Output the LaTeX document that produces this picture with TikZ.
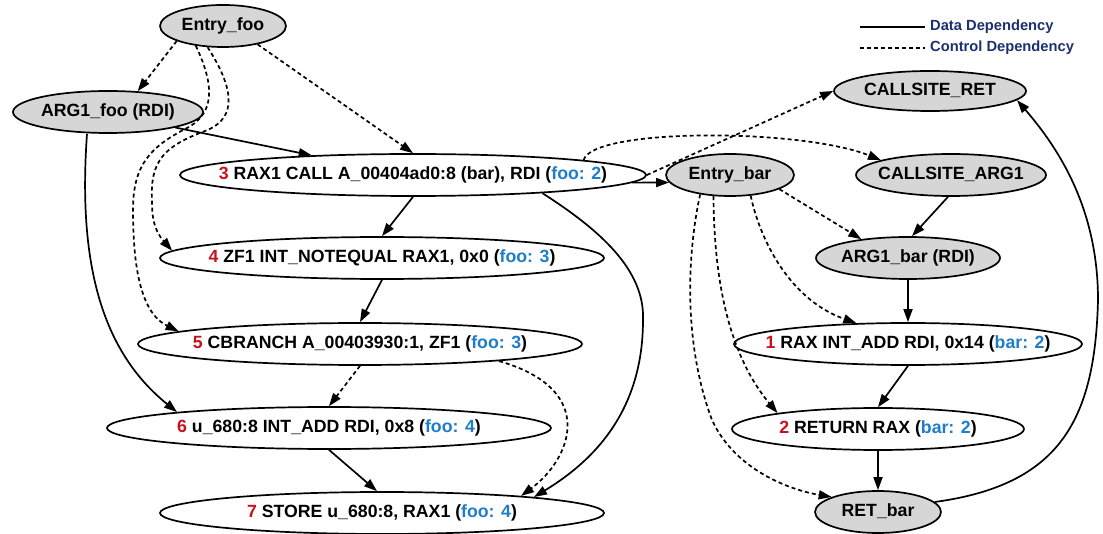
\documentclass[tikz,border=0pt]{standalone}
\usepackage{fontspec}
\setmainfont{Liberation Sans}
\usetikzlibrary{shapes.geometric,arrows.meta}
\definecolor{numred}{RGB}{200,16,30}
\definecolor{fnblue}{RGB}{30,125,200}
\definecolor{legnavy}{RGB}{28,48,110}
\definecolor{nodegrey}{RGB}{214,214,214}
% operation label: index (red), instruction, function and depth (blue)
\newcommand\oplabel[3]{\makebox[0pt]{\textcolor{numred}{#1} #2 (\textcolor{fnblue}{#3})}}
\newcommand\plainlabel[1]{\makebox[0pt]{#1}}

\begin{document}
\begin{tikzpicture}[x=1pt,y=-1pt,
  every node/.style={font=\fontsize{17.7}{20}\selectfont\bfseries},
  vtx/.style={ellipse, draw, line width=1.7pt, inner sep=0pt, minimum height=42pt,
              text height=13pt, text depth=4pt},
  aux/.style={vtx, fill=nodegrey},
  data/.style={line width=1.7pt, -{Triangle[length=13pt,width=9pt]}},
  ctrl/.style={data, dash pattern=on 4pt off 3pt},
  legtext/.style={anchor=west, inner sep=0pt, text=legnavy,
                  font=\fontsize{14.7}{17}\selectfont\bfseries}]
\useasboundingbox (0,0) rectangle (1103,534);

% ---- function foo ----
\node[aux, minimum width=126pt] (ef) at (223,26) {\plainlabel{Entry\_foo}};
\node[aux, minimum width=190pt] (af) at (108,112) {\plainlabel{ARG1\_foo (RDI)}};
\node[vtx, minimum width=466pt] (n3) at (413,175) {\oplabel{3}{RAX1 CALL A\_00404ad0:8 (bar), RDI}{foo: 2}};
\node[vtx, minimum width=444pt] (n4) at (382,258) {\oplabel{4}{ZF1 INT\_NOTEQUAL RAX1, 0x0}{foo: 3}};
\node[vtx, minimum width=444pt] (n5) at (360,344) {\oplabel{5}{CBRANCH A\_00403930:1, ZF1}{foo: 3}};
\node[vtx, minimum width=444pt] (n6) at (329,428) {\oplabel{6}{u\_680:8 INT\_ADD RDI, 0x8}{foo: 4}};
\node[vtx, minimum width=444pt] (n7) at (382,513) {\oplabel{7}{STORE u\_680:8, RAX1}{foo: 4}};

% ---- function bar ----
\node[aux, minimum width=128pt] (eb) at (730,175) {\plainlabel{Entry\_bar}};
\node[aux, minimum width=192pt, minimum height=40pt] (cr) at (930,91) {\plainlabel{CALLSITE\_RET}};
\node[aux, minimum width=190pt] (ca) at (951,175) {\plainlabel{CALLSITE\_ARG1}};
\node[aux, minimum width=184pt] (ab) at (908,258) {\plainlabel{ARG1\_bar (RDI)}};
\node[vtx, minimum width=348pt] (n1) at (908,344) {\oplabel{1}{RAX INT\_ADD RDI, 0x14}{bar: 2}};
\node[vtx, minimum width=292pt] (n2) at (878,429) {\oplabel{2}{RETURN RAX}{bar: 2}};
\node[aux, minimum width=126pt] (rb) at (878,512) {\plainlabel{RET\_bar}};

% ---- dependencies inside foo ----
\draw[ctrl] (ef.198) -- (af.35);
\draw[ctrl] (ef.332) -- (n3.north);
\draw[ctrl] (ef.234) .. controls (232,85) and (240,118) .. (205,131)
            .. controls (165,146) and (150,160) .. (152,200)
            .. controls (152,215) and (153,229) .. (n4.178);
\draw[ctrl] (ef.216) .. controls (212,80) and (218,112) .. (187,128)
            .. controls (150,147) and (133,165) .. (133,210)
            .. controls (133,280) and (145,315) .. (n5.176);
\draw[data] (af.347) -- (n3.169);
\draw[data] ([xshift=-21pt]af.south) .. controls (78,260) and (100,350) .. (n6.174);
\draw[data] (n3.south) -- (n4.north);
\draw[data] (n4.south) -- (n5.north);
\draw[ctrl] (n5.south) -- (n6.north);
\draw[data] (n6.south) -- ([xshift=-5pt]n7.north);
\draw[ctrl] (n5.353) .. controls (600,390) and (570,460) .. (n7.7);
\draw[data] (n3.352) .. controls (600,230) and (645,270) .. (643,320)
            .. controls (643,410) and (595,460) .. (n7.6);

% ---- call into bar ----
\draw[data] (n3.358) -- (eb.187);
\draw[ctrl] (n3.east) -- (cr.west);
\draw[ctrl] (n3.5) .. controls (592,128) and (800,128) .. (ca.168);

% ---- dependencies inside bar ----
\draw[ctrl] (eb.344) -- (ab.158);
\draw[data] ([xshift=-3pt]ca.south) -- ([xshift=4pt]ab.north);
\draw[data] (ab.south) -- (n1.north);
\draw[ctrl] (eb.315) .. controls (760,240) and (790,300) .. (n1.158);
\draw[ctrl] (eb.232) .. controls (714,270) and (725,350) .. (n2.171);
\draw[ctrl] (eb.213) .. controls (688,250) and (682,340) .. (712,420)
            .. controls (735,470) and (790,490) .. (rb.162);
\draw[data] (n1.south) -- (n2.north);
\draw[data] (n2.south) -- (rb.north);
\draw[data] (rb.10) .. controls (1060,485) and (1095,420) .. (1098,300)
            .. controls (1098,210) and (1060,150) .. (cr.354);

% ---- legend ----
\coordinate (dataA) at (860,27);
\coordinate (dataB) at (925,27);
\coordinate (ctrlA) at (860,48);
\coordinate (ctrlB) at (925,48);
\draw[line width=1.7pt] (dataA) -- (dataB);
\draw[line width=1.7pt, dash pattern=on 4pt off 3pt] (ctrlA) -- (ctrlB);
\node[legtext] (dataL) at (930,27) {Data Dependency};
\node[legtext] (ctrlL) at (930,48) {Control Dependency};
\end{tikzpicture}
\end{document}
